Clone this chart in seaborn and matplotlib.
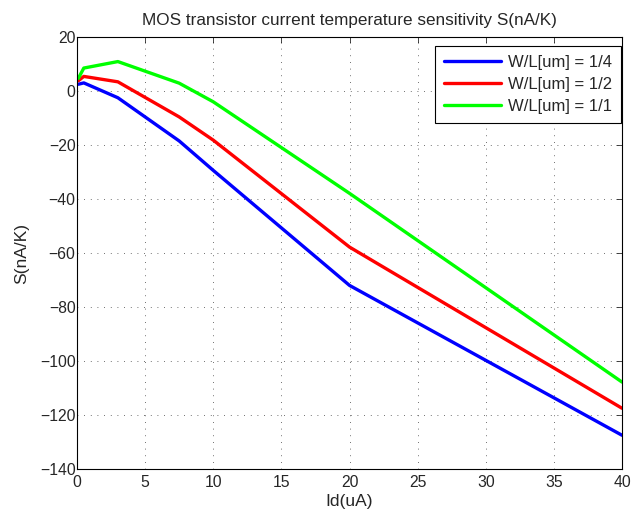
import matplotlib
matplotlib.use("Agg")
import matplotlib.pyplot as plt
import seaborn as sns
import pandas as pd

# values
id_ua = [0.1, 0.5, 3, 7.5, 10, 20, 40]
s_w4 = [2.5, 3.0, -2.5, -18.5, -29.4, -72, -127.5]
s_w2 = [3.8, 5.4, 3.4, -9.6, -18.2, -57.8, -117.5]
s_w1 = [4.7, 8.5, 10.9, 2.9, -4.0, -37.9, -107.8]
labels = ["W/L[um] = 1/4", "W/L[um] = 1/2", "W/L[um] = 1/1"]
colors = ["#0000ff", "#ff0000", "#00ff00"]

df = pd.concat([pd.DataFrame({"Id": id_ua, "S": vals, "series": lab})
                for vals, lab in zip([s_w4, s_w2, s_w1], labels)], ignore_index=True)

sns.set_style("white")
plt.rcParams["font.family"] = ["Liberation Sans", "DejaVu Sans"]

fig = plt.figure(figsize=(6.32, 5.15), dpi=100)
# axes box: x 77..622 px, y 37..469 px
ax = fig.add_axes([77 / 632, 1 - 469 / 515, 545 / 632, 432 / 515])

sns.lineplot(data=df, x="Id", y="S", hue="series", palette=colors,
             linewidth=2.4, ax=ax, estimator=None, sort=False)

ax.set_xlim(0, 40)
ax.set_ylim(-140, 20)
ax.set_xticks(range(0, 41, 5))
ax.set_yticks(range(-140, 21, 20))
ax.grid(True, color="0.25", linestyle=(0, (1, 7)), linewidth=0.6)
ax.tick_params(direction="in", top=True, right=True, labelsize=11.3, length=4, width=0.6)
ax.tick_params(axis="y", pad=1)
ax.tick_params(axis="x", pad=4)
for sp in ax.spines.values():
    sp.set_color("black")
    sp.set_linewidth(0.8)

ax.set_xlabel("Id(uA)", fontsize=12.5, labelpad=3)
ax.set_ylabel("S(nA/K)", fontsize=12.5, labelpad=8)
ax.set_title("MOS transistor current temperature sensitivity S(nA/K)", fontsize=12.3, pad=8.5)

leg = ax.legend(loc="upper right", bbox_to_anchor=(0.998, 0.979), borderaxespad=0,
                fontsize=12, frameon=True, fancybox=False, edgecolor="black",
                framealpha=1, handlelength=3.4, handletextpad=0.4, borderpad=0.55,
                labelspacing=0.4)
leg.get_frame().set_linewidth(0.8)

fig.savefig("out.png", dpi=100)
